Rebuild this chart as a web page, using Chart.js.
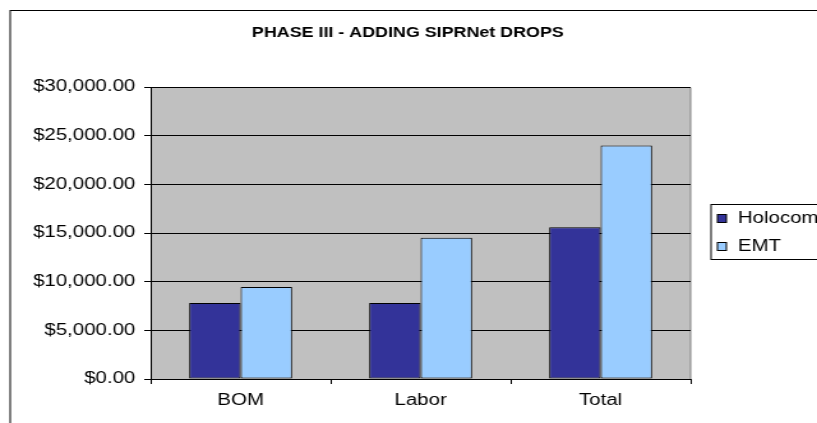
<!DOCTYPE html>
<html>
<head>
<meta charset="utf-8">
<script src="https://cdn.jsdelivr.net/npm/chart.js@4"></script>
<style>
  html, body { margin: 0; padding: 0; background: #fff; overflow: hidden; }
  /* the original picture is an Excel chart stretched sideways, so the canvas is too */
  #chart { display: block; width: 817px; height: 423px; }
</style>
</head>
<body>
<canvas id="chart" width="640" height="423" style="width:817px;height:423px"></canvas>
<script>
// Data
const categories = ['BOM', 'Labor', 'Total'];
const seriesNames = ['Holocom', 'EMT'];
const holocomValues = [7800, 7800, 15600];
const emtValues = [9450, 14500, 24000];
const yTicks = [0, 5000, 10000, 15000, 20000, 25000, 30000];

const colors = ['#333399', '#99CCFF'];
const FONT = 'Arial, "Liberation Sans", sans-serif';

function money(v) {
    return '$' + v.toLocaleString('en-US', { minimumFractionDigits: 2, maximumFractionDigits: 2 });
}

// Frame, title, grey plot background and legend, Excel style
const excelFrame = {
    id: 'excelFrame',
    beforeDraw(chart) {
        const ctx = chart.ctx;
        const a = chart.chartArea;
        ctx.save();
        ctx.fillStyle = '#ffffff';
        ctx.fillRect(0, 0, chart.width, chart.height);
        ctx.strokeStyle = '#000000';
        ctx.lineWidth = 1;
        ctx.strokeRect(8, 10.5, 700, 430);
        ctx.fillStyle = '#C0C0C0';
        ctx.fillRect(a.left, a.top, a.right - a.left, a.bottom - a.top);
        ctx.strokeStyle = '#808080';
        ctx.beginPath();
        ctx.moveTo(a.left, a.top + 0.5);
        ctx.lineTo(a.right, a.top + 0.5);
        ctx.lineTo(a.right, a.bottom);
        ctx.stroke();
        ctx.fillStyle = '#000000';
        ctx.font = 'bold 14px ' + FONT;
        ctx.textAlign = 'center';
        ctx.textBaseline = 'middle';
        ctx.fillText('PHASE III - ADDING SIPRNet DROPS', 319.5, 33);
        ctx.restore();
    },
    afterDraw(chart) {
        const ctx = chart.ctx;
        ctx.save();
        ctx.strokeStyle = '#000000';
        ctx.lineWidth = 1;
        ctx.fillStyle = '#ffffff';
        ctx.fillRect(557, 204, 100, 55);
        ctx.strokeRect(557, 204.5, 100, 55);
        const rows = [218, 246];
        chart.data.datasets.forEach((ds, i) => {
            const y = rows[i];
            ctx.fillStyle = ds.backgroundColor;
            ctx.fillRect(562, y - 4, 7, 8);
            ctx.strokeRect(562, y - 3.5, 7, 8);
            ctx.fillStyle = '#000000';
            ctx.font = '16px ' + FONT;
            ctx.textAlign = 'left';
            ctx.textBaseline = 'middle';
            ctx.fillText(ds.label, 578, y + 1);
        });
        ctx.restore();
    }
};

const ctx = document.getElementById('chart').getContext('2d');
new Chart(ctx, {
    type: 'bar',
    data: {
        labels: categories,
        datasets: [
            {
                label: seriesNames[0],
                data: holocomValues,
                backgroundColor: colors[0],
                borderColor: '#000000',
                borderWidth: 1,
                borderSkipped: false
            },
            {
                label: seriesNames[1],
                data: emtValues,
                backgroundColor: colors[1],
                borderColor: '#000000',
                borderWidth: 1,
                borderSkipped: false
            }
        ]
    },
    options: {
        responsive: false,
        animation: false,
        devicePixelRatio: 1,
        layout: { padding: { left: 8, right: 99, top: 87, bottom: 12 } },
        datasets: { bar: { categoryPercentage: 0.572, barPercentage: 1.0 } },
        plugins: {
            legend: { display: false },
            title: { display: false },
            tooltip: { enabled: false }
        },
        scales: {
            x: {
                grid: { drawOnChartArea: false, drawTicks: true, tickLength: 5, color: '#000000' },
                border: { color: '#000000', width: 1 },
                ticks: { color: '#000000', font: { family: FONT, size: 16 }, padding: 7 },
                afterFit(s) { s.height = 32; }
            },
            y: {
                min: 0,
                max: 30000,
                afterBuildTicks(s) { s.ticks = yTicks.map(v => ({ value: v })); },
                grid: { color: '#000000', lineWidth: 1, tickLength: 5, tickColor: '#000000' },
                border: { color: '#000000', width: 1 },
                ticks: {
                    color: '#000000',
                    font: { family: FONT, size: 16 },
                    padding: 7,
                    callback: v => money(v)
                },
                afterFit(s) { s.width = 110; }
            }
        }
    },
    plugins: [excelFrame]
});
</script>
</body>
</html>
